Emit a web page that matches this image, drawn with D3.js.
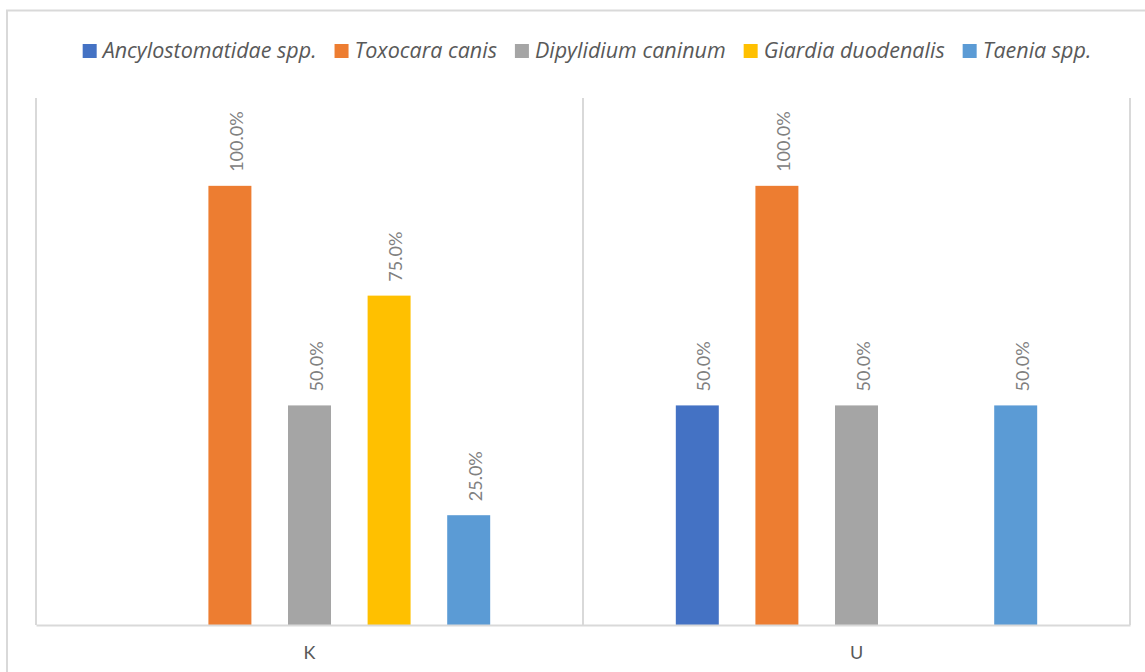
<!DOCTYPE html>
<html>
<head>
<meta charset="utf-8">
<script src="https://cdn.jsdelivr.net/npm/d3@7"></script>
<style>
  body { margin: 0; background: #fff; }
  svg { display: block; }
</style>
</head>
<body>
<div id="chart"></div>
<script>
// data
var categories = ["K", "U"];
var seriesNames = ["Ancylostomatidae spp.", "Toxocara canis", "Dipylidium caninum", "Giardia duodenalis", "Taenia spp."];
var seriesColors = ["#4472C4", "#ED7D31", "#A5A5A5", "#FFC000", "#5B9BD5"];
var valuesK = [0, 1.00, 0.50, 0.75, 0.25];
var valuesU = [0.50, 1.00, 0.50, 0, 0.50];
var yMax = 1.2;

var svgWidth = 1145;
var svgHeight = 672;

var margin = { top: 98, right: 15, bottom: 47, left: 36 };
var width = 1130 - margin.left;
var height = 625 - margin.top;

var svg = d3.select("#chart")
    .append("svg")
    .attr("width", svgWidth)
    .attr("height", svgHeight);

// outer chart border (runs off the page at right and bottom)
svg.append("rect")
    .attr("x", 7)
    .attr("y", 10.5)
    .attr("width", 1160)
    .attr("height", 700)
    .attr("fill", "none")
    .attr("stroke", "#d9d9d9")
    .attr("stroke-width", 2);

var chartGroup = svg.append("g")
    .attr("transform", `translate(${margin.left}, ${margin.top})`);

var data = categories.map((c, i) => ({
    cat: c,
    values: (i === 0 ? valuesK : valuesU).map((v, j) => ({ name: seriesNames[j], color: seriesColors[j], value: v }))
}));

// scales
var x0 = d3.scaleBand()
    .domain(categories)
    .range([0, width])
    .paddingInner(0)
    .paddingOuter(0);

var x1 = d3.scaleBand()
    .domain(seriesNames)
    .range([0, x0.bandwidth()])
    .paddingInner(0.46)
    .paddingOuter(1.166);

var y = d3.scaleLinear()
    .domain([0, yMax])
    .range([height, 0]);

// vertical separators between categories
var seps = [0].concat(categories.map(c => x0(c) + x0.bandwidth()));
chartGroup.append("g")
    .selectAll("line")
    .data(seps)
    .enter()
    .append("line")
    .attr("x1", d => d)
    .attr("x2", d => d)
    .attr("y1", 0)
    .attr("y2", height)
    .attr("stroke", "#d9d9d9")
    .attr("stroke-width", 2);

// bars
var groups = chartGroup.selectAll(".cat")
    .data(data)
    .enter()
    .append("g")
    .attr("class", "cat")
    .attr("transform", d => `translate(${x0(d.cat)}, 0)`);

groups.selectAll("rect")
    .data(d => d.values)
    .enter()
    .append("rect")
    .attr("x", d => x1(d.name))
    .attr("y", d => y(d.value))
    .attr("width", x1.bandwidth())
    .attr("height", d => height - y(d.value))
    .attr("fill", d => d.color);

// data labels, rotated
groups.selectAll("text")
    .data(d => d.values.filter(v => v.value > 0))
    .enter()
    .append("text")
    .attr("transform", d => `translate(${x1(d.name) + x1.bandwidth() / 2 + 13}, ${y(d.value) - 14}) rotate(-90)`)
    .attr("font-family", "Lato, 'Open Sans', sans-serif")
    .attr("font-size", "18px")
    .attr("fill", "#808080")
    .text(d => d3.format(".1%")(d.value));

// x axis line + category labels
var xAxis = d3.axisBottom(x0).tickSize(0).tickPadding(21);
var xg = chartGroup.append("g")
    .attr("transform", `translate(0, ${height})`)
    .call(xAxis);
xg.select(".domain").attr("stroke", "#d9d9d9").attr("stroke-width", 2);
xg.selectAll("text")
    .attr("font-family", "Lato, 'Open Sans', sans-serif")
    .attr("font-size", "18px")
    .attr("fill", "#595959");

// legend
var legend = svg.append("g").attr("class", "legend");
var items = legend.selectAll("g")
    .data(seriesNames)
    .enter()
    .append("g");
items.append("rect")
    .attr("width", 14)
    .attr("height", 14)
    .attr("y", -14)
    .attr("fill", (d, i) => seriesColors[i]);
items.append("text")
    .attr("x", 20)
    .attr("font-family", "'Open Sans', sans-serif")
    .attr("font-style", "italic")
    .attr("font-size", "21.5px")
    .attr("fill", "#595959")
    .text(d => d);

var offset = 0;
items.each(function () {
    var g = d3.select(this);
    var w = 20 + g.select("text").node().getComputedTextLength();
    g.attr("transform", `translate(${offset}, 0)`);
    offset += w + 18;
});
var legendWidth = offset - 18;
legend.attr("transform", `translate(${587 - legendWidth / 2}, 58)`);
</script>
</body>
</html>
